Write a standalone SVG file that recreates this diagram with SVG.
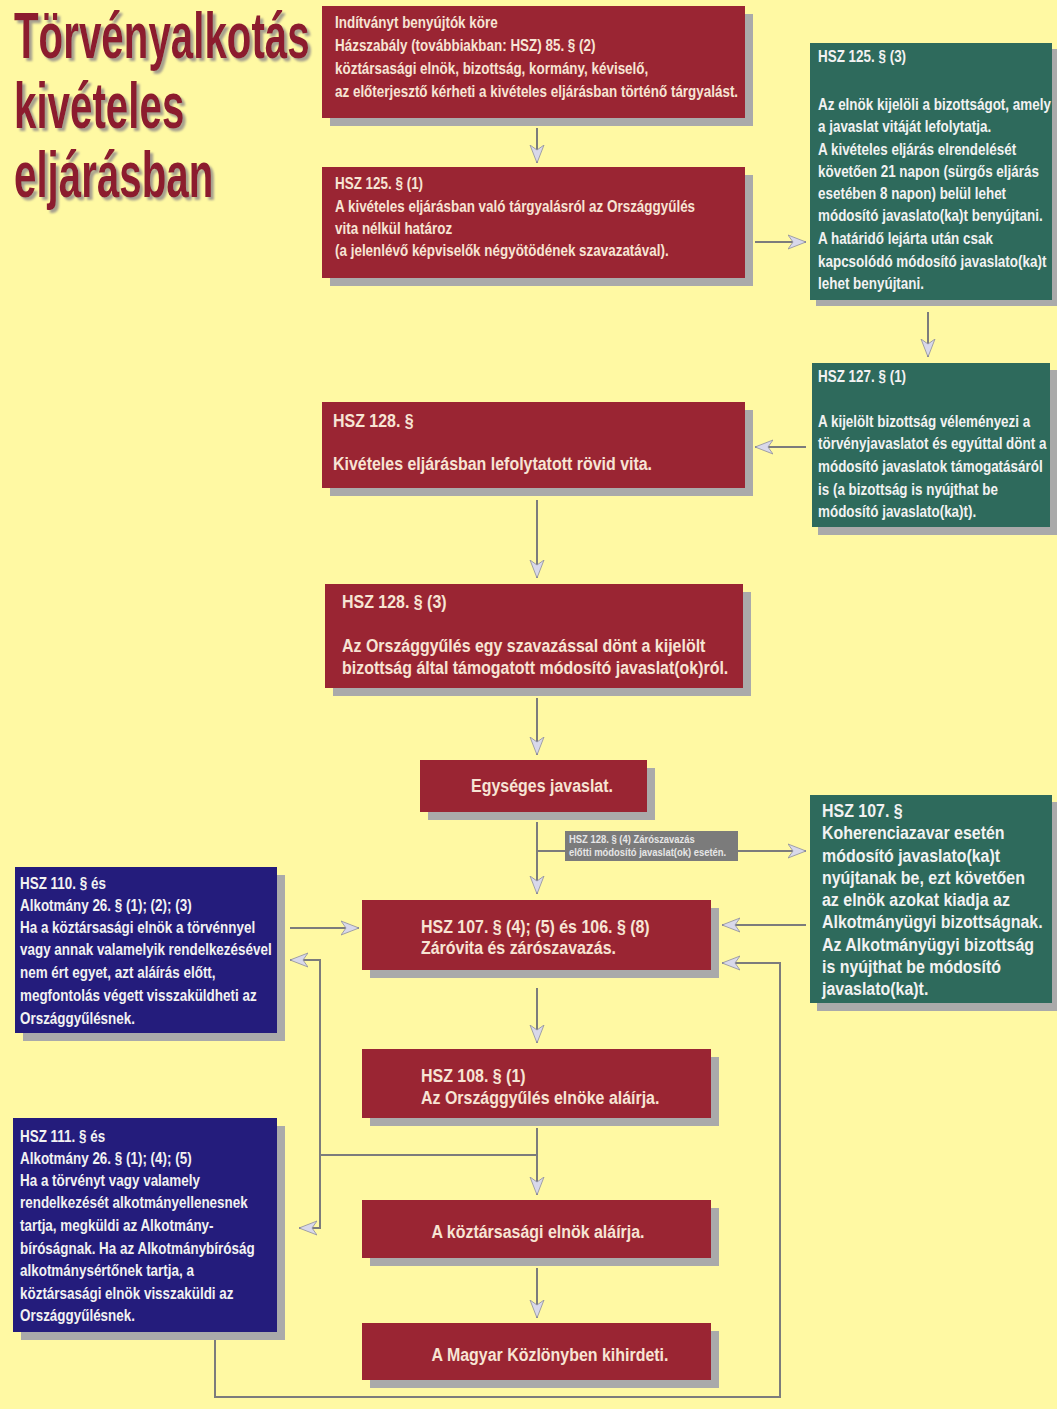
<svg xmlns="http://www.w3.org/2000/svg" width="1057" height="1409" viewBox="0 0 1057 1409">
<defs>
<style>
.bg{fill:#fff9a3}
.sh{fill:#aaaaaa}
.red{fill:#9a2533}
.teal{fill:#2e6a5c}
.blue{fill:#241c7c}
.t{font-family:"Liberation Sans",Arial,sans-serif;font-weight:bold}
.rt{fill:#f7e4d4;font-size:16px}
.rl{fill:#f7e4d4;font-size:19px}
.wt{fill:#f2f2f2;font-size:16px}
.wl{fill:#f2f2f2;font-size:19px}
.title{font-family:"Liberation Sans",Arial,sans-serif;font-weight:bold;font-size:64px;fill:#8c1c2e}
.c{fill:none;stroke:#7c7c7c;stroke-width:2}
.lbl{font-family:"Liberation Sans",Arial,sans-serif;font-weight:bold;font-size:10.5px;fill:#e6e6e6}
</style>
<filter id="tshadow" x="-5%" y="-20%" width="115%" height="150%">
<feDropShadow dx="3" dy="3" stdDeviation="0.8" flood-color="#9c968c" flood-opacity="0.9"/>
</filter>
<marker id="ah" markerUnits="userSpaceOnUse" markerWidth="20" markerHeight="16" refX="18" refY="8" orient="auto">
<path d="M0,1 L18,8 L0,15 L5,8 z" fill="#d8d8ea" stroke="#8e8e9c" stroke-width="0.8"/>
</marker>
</defs>
<rect class="bg" x="0" y="0" width="1057" height="1409"/>

<g id="title" filter="url(#tshadow)">
<text class="title" transform="translate(14,58) scale(0.63,1)">Törvényalkotás</text>
<text class="title" transform="translate(14,128) scale(0.63,1)">kivételes</text>
<text class="title" transform="translate(14,197) scale(0.63,1)">eljárásban</text>
</g>

<g id="connectors">
<line class="c" x1="537" y1="128" x2="537" y2="163" marker-end="url(#ah)"/>
<line class="c" x1="755" y1="242" x2="806" y2="242" marker-end="url(#ah)"/>
<line class="c" x1="928" y1="312" x2="928" y2="357" marker-end="url(#ah)"/>
<line class="c" x1="806" y1="447" x2="755" y2="447" marker-end="url(#ah)"/>
<line class="c" x1="537" y1="500" x2="537" y2="578" marker-end="url(#ah)"/>
<line class="c" x1="537" y1="698" x2="537" y2="755" marker-end="url(#ah)"/>
<line class="c" x1="537" y1="822" x2="537" y2="894" marker-end="url(#ah)"/>
<line class="c" x1="537" y1="851" x2="806" y2="851" marker-end="url(#ah)"/>
<line class="c" x1="290" y1="928" x2="359" y2="928" marker-end="url(#ah)"/>
<line class="c" x1="806" y1="925" x2="722" y2="925" marker-end="url(#ah)"/>
<polyline class="c" points="215,1340 215,1397 780,1397 780,963 722,963" marker-end="url(#ah)"/>
<line class="c" x1="537" y1="988" x2="537" y2="1043" marker-end="url(#ah)"/>
<line class="c" x1="537" y1="1128" x2="537" y2="1195" marker-end="url(#ah)"/>
<polyline class="c" points="537,1155 320,1155 320,960 290,960" marker-end="url(#ah)"/>
<polyline class="c" points="320,1155 320,1228 299,1228" marker-end="url(#ah)"/>
<line class="c" x1="537" y1="1268" x2="537" y2="1318" marker-end="url(#ah)"/>
<g id="branch-label">
<rect x="565" y="831" width="173" height="30" fill="#7b7b7b"/>
<text class="lbl" transform="translate(569,843) scale(0.9,1)">HSZ 128. § (4) Zárószavazás</text>
<text class="lbl" transform="translate(569,856) scale(0.9,1)">előtti módosító javaslat(ok) esetén.</text>
</g>
</g>

<g id="n1">
<rect class="sh" x="330" y="14" width="423" height="112"/>
<rect class="red" x="322" y="6" width="423" height="112"/>
<text class="t rt" transform="translate(335,28) scale(0.84,1)">Indítványt benyújtók köre</text>
<text class="t rt" transform="translate(335,51) scale(0.84,1)">Házszabály (továbbiakban: HSZ) 85. § (2)</text>
<text class="t rt" transform="translate(335,74) scale(0.84,1)">köztársasági elnök, bizottság, kormány, kéviselő,</text>
<text class="t rt" transform="translate(335,97) scale(0.84,1)">az előterjesztő kérheti a kivételes eljárásban történő tárgyalást.</text>
</g>

<g id="n2">
<rect class="sh" x="330" y="175" width="423" height="111"/>
<rect class="red" x="322" y="167" width="423" height="111"/>
<text class="t rt" transform="translate(335,189) scale(0.84,1)">HSZ 125. § (1)</text>
<text class="t rt" transform="translate(335,212) scale(0.84,1)">A kivételes eljárásban való tárgyalásról az Országgyűlés</text>
<text class="t rt" transform="translate(335,234) scale(0.84,1)">vita nélkül határoz</text>
<text class="t rt" transform="translate(335,256) scale(0.84,1)">(a jelenlévő képviselők négyötödének szavazatával).</text>
</g>

<g id="n3">
<rect class="sh" x="816" y="49" width="241" height="257"/>
<rect class="teal" x="810" y="43" width="242" height="257"/>
<text class="t wt" transform="translate(818,62) scale(0.84,1)">HSZ 125. § (3)</text>
<text class="t wt" transform="translate(818,110) scale(0.84,1)">Az elnök kijelöli a bizottságot, amely</text>
<text class="t wt" transform="translate(818,132) scale(0.84,1)">a javaslat vitáját lefolytatja.</text>
<text class="t wt" transform="translate(818,155) scale(0.84,1)">A kivételes eljárás elrendelését</text>
<text class="t wt" transform="translate(818,177) scale(0.84,1)">követően 21 napon (sürgős eljárás</text>
<text class="t wt" transform="translate(818,199) scale(0.84,1)">esetében 8 napon) belül lehet</text>
<text class="t wt" transform="translate(818,221) scale(0.84,1)">módosító javaslato(ka)t benyújtani.</text>
<text class="t wt" transform="translate(818,244) scale(0.84,1)">A határidő lejárta után csak</text>
<text class="t wt" transform="translate(818,267) scale(0.84,1)">kapcsolódó módosító javaslato(ka)t</text>
<text class="t wt" transform="translate(818,289) scale(0.84,1)">lehet benyújtani.</text>
</g>

<g id="n4">
<rect class="sh" x="818" y="370" width="239" height="165"/>
<rect class="teal" x="812" y="363" width="238" height="164"/>
<text class="t wt" transform="translate(818,382) scale(0.84,1)">HSZ 127. § (1)</text>
<text class="t wt" transform="translate(818,427) scale(0.84,1)">A kijelölt bizottság véleményezi a</text>
<text class="t wt" transform="translate(818,449) scale(0.84,1)">törvényjavaslatot és egyúttal dönt a</text>
<text class="t wt" transform="translate(818,472) scale(0.84,1)">módosító javaslatok támogatásáról</text>
<text class="t wt" transform="translate(818,495) scale(0.84,1)">is (a bizottság is nyújthat be</text>
<text class="t wt" transform="translate(818,517) scale(0.84,1)">módosító javaslato(ka)t).</text>
</g>

<g id="n5">
<rect class="sh" x="330" y="410" width="423" height="86"/>
<rect class="red" x="322" y="402" width="423" height="86"/>
<text class="t rl" transform="translate(333,427) scale(0.84,1)">HSZ 128. §</text>
<text class="t rl" transform="translate(333,470) scale(0.84,1)">Kivételes eljárásban lefolytatott rövid vita.</text>
</g>

<g id="n6">
<rect class="sh" x="333" y="592" width="418" height="104"/>
<rect class="red" x="325" y="584" width="418" height="104"/>
<text class="t rl" transform="translate(342,608) scale(0.84,1)">HSZ 128. § (3)</text>
<text class="t rl" transform="translate(342,652) scale(0.84,1)">Az Országgyűlés egy szavazással dönt a kijelölt</text>
<text class="t rl" transform="translate(342,674) scale(0.84,1)">bizottság által támogatott módosító javaslat(ok)ról.</text>
</g>

<g id="n7">
<rect class="sh" x="428" y="768" width="227" height="52"/>
<rect class="red" x="420" y="760" width="227" height="52"/>
<text class="t rl" text-anchor="middle" transform="translate(542,792) scale(0.84,1)">Egységes javaslat.</text>
</g>

<g id="n8">
<rect class="sh" x="817" y="802" width="240" height="209"/>
<rect class="teal" x="810" y="795" width="242" height="208"/>
<text class="t wl" transform="translate(822,817) scale(0.84,1)">HSZ  107. §</text>
<text class="t wl" transform="translate(822,839) scale(0.84,1)">Koherenciazavar esetén</text>
<text class="t wl" transform="translate(822,862) scale(0.84,1)">módosító javaslato(ka)t</text>
<text class="t wl" transform="translate(822,884) scale(0.84,1)">nyújtanak be, ezt követően</text>
<text class="t wl" transform="translate(822,906) scale(0.84,1)">az elnök azokat kiadja az</text>
<text class="t wl" transform="translate(822,928) scale(0.84,1)">Alkotmányügyi bizottságnak.</text>
<text class="t wl" transform="translate(822,951) scale(0.84,1)">Az Alkotmányügyi bizottság</text>
<text class="t wl" transform="translate(822,973) scale(0.84,1)">is nyújthat be módosító</text>
<text class="t wl" transform="translate(822,995) scale(0.84,1)">javaslato(ka)t.</text>
</g>

<g id="n9">
<rect class="sh" x="23" y="875" width="262" height="166"/>
<rect class="blue" x="15" y="867" width="262" height="166"/>
<text class="t wt" transform="translate(20,889) scale(0.84,1)">HSZ 110. § és</text>
<text class="t wt" transform="translate(20,911) scale(0.84,1)">Alkotmány 26. § (1); (2); (3)</text>
<text class="t wt" transform="translate(20,933) scale(0.84,1)">Ha a köztársasági elnök a törvénnyel</text>
<text class="t wt" transform="translate(20,955) scale(0.84,1)">vagy annak valamelyik rendelkezésével</text>
<text class="t wt" transform="translate(20,978) scale(0.84,1)">nem ért egyet, azt aláírás előtt,</text>
<text class="t wt" transform="translate(20,1001) scale(0.84,1)">megfontolás végett visszaküldheti az</text>
<text class="t wt" transform="translate(20,1024) scale(0.84,1)">Országgyűlésnek.</text>
</g>

<g id="n10">
<rect class="sh" x="370" y="908" width="349" height="70"/>
<rect class="red" x="362" y="900" width="349" height="70"/>
<text class="t rl" transform="translate(421,933) scale(0.84,1)">HSZ 107. § (4); (5) és 106. § (8)</text>
<text class="t rl" transform="translate(421,954) scale(0.84,1)">Záróvita és zárószavazás.</text>
</g>

<g id="n11">
<rect class="sh" x="370" y="1057" width="349" height="69"/>
<rect class="red" x="362" y="1049" width="349" height="69"/>
<text class="t rl" transform="translate(421,1082) scale(0.84,1)">HSZ 108. § (1)</text>
<text class="t rl" transform="translate(421,1104) scale(0.84,1)">Az Országgyűlés elnöke aláírja.</text>
</g>

<g id="n12">
<rect class="sh" x="21" y="1126" width="264" height="214"/>
<rect class="blue" x="13" y="1118" width="264" height="214"/>
<text class="t wt" transform="translate(20,1142) scale(0.84,1)">HSZ 111. § és</text>
<text class="t wt" transform="translate(20,1164) scale(0.84,1)">Alkotmány 26. § (1); (4); (5)</text>
<text class="t wt" transform="translate(20,1186) scale(0.84,1)">Ha a törvényt vagy valamely</text>
<text class="t wt" transform="translate(20,1208) scale(0.84,1)">rendelkezését alkotmányellenesnek</text>
<text class="t wt" transform="translate(20,1231) scale(0.84,1)">tartja, megküldi az Alkotmány-</text>
<text class="t wt" transform="translate(20,1254) scale(0.84,1)">bíróságnak. Ha az Alkotmánybíróság</text>
<text class="t wt" transform="translate(20,1276) scale(0.84,1)">alkotmánysértőnek tartja, a</text>
<text class="t wt" transform="translate(20,1299) scale(0.84,1)">köztársasági elnök visszaküldi az</text>
<text class="t wt" transform="translate(20,1321) scale(0.84,1)">Országgyűlésnek.</text>
</g>

<g id="n13">
<rect class="sh" x="370" y="1208" width="349" height="58"/>
<rect class="red" x="362" y="1200" width="349" height="58"/>
<text class="t rl" text-anchor="middle" transform="translate(538,1238) scale(0.84,1)">A köztársasági elnök aláírja.</text>
</g>

<g id="n14">
<rect class="sh" x="370" y="1331" width="349" height="57"/>
<rect class="red" x="362" y="1323" width="349" height="57"/>
<text class="t rl" text-anchor="middle" transform="translate(550,1361) scale(0.84,1)">A Magyar Közlönyben kihirdeti.</text>
</g>
</svg>
